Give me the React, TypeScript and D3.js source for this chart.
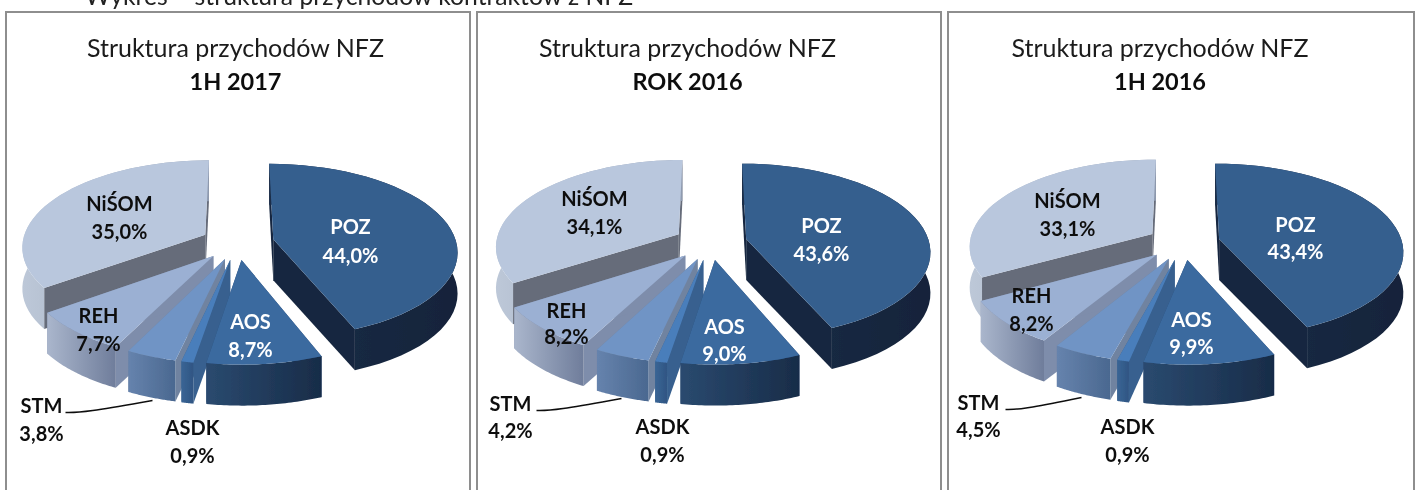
import React from "react";
import * as d3 from "d3";

const categories = ["POZ", "AOS", "ASDK", "STM", "REH", "NiŚOM"];
const valuesH12017 = [44.0, 8.7, 0.9, 3.8, 7.7, 35.0];
const valuesY2016 = [43.6, 9.0, 0.9, 4.2, 8.2, 34.1];
const valuesH12016 = [43.4, 9.9, 0.9, 4.5, 8.2, 33.1];
const periods = ["1H 2017", "ROK 2016", "1H 2016"];
const seriesByPeriod = [valuesH12017, valuesY2016, valuesH12016];

const chartTitle = "Struktura przychodów NFZ";
const pageCaption = "Wykres – struktura przychodów kontraktów z NFZ";

const topColors = ["#365f8e", "#3b6a9f", "#4a7ebb", "#7094c5", "#9bb0d3", "#b9c7dd"];
const faceColors = ["#17273f", "#2a4a75", "#38618f", "#6f83a0", "#7e8dab", "#666c7a"];
const wallFrom = ["#1b2e49", "#2a4a6f", "#3a6595", "#6683ad", "#aab6cc", "#bdc8d8"];
const wallTo = ["#14233a", "#182c48", "#2f5583", "#4a6890", "#6f7d9b", "#8f9bb0"];
const labelColors = ["#fff", "#fff", "#111", "#111", "#111", "#111"];

// layout per panel
const panelX = [6, 477, 948];
const panelW = [464, 464, 466];
const titleCx = [235.5, 687.5, 1160];
const pieCx = [237.5, 710.5, 1183.5];
const pieCy = 242.5;
const RX = 183;
const RY = 86;
const P = 0.13;
const EXPLODE = 0.2;
const DEPTH = 41;

// label anchor positions relative to the panel's pie centre [x, name-y, value-y]
const labelPos = [
  [[113, -9, 20], [13, 86, 114], [-45, 192, 220], [-196, 170, 198], [-139, 80, 108], [-118, -32, -4]],
  [[111, -10, 18], [14, 91, 118], [-48, 191, 219], [-200, 168, 195], [-144, 75, 101], [-116, -37, -9]],
  [[112, -11, 16], [8, 84, 111], [-56, 191, 219], [-205, 167, 194], [-152, 60, 88], [-116, -35, -7]],
];
// leader from the STM label to its slice
const leaderStartDx = [-172, -174, -178];
const leaderLength = [87, 85, 76];

function project(cx: number, cy: number, X: number, Y: number): [number, number] {
  const s = 1 / (1 - P * Y);
  return [cx + RX * X * s, cy + RY * Y * s];
}

function Slice({ i, arc, cx }: { i: number; arc: d3.PieArcDatum<number>; cx: number }) {
  const mid = (arc.startAngle + arc.endAngle) / 2;
  const ox = EXPLODE * Math.sin(mid);
  const oy = -EXPLODE * Math.cos(mid);
  const thetas = d3.range(0, 41).map((k) => arc.startAngle + ((arc.endAngle - arc.startAngle) * k) / 40);
  const rim = thetas.map((t) => project(cx, pieCy, ox + Math.sin(t), oy - Math.cos(t)));
  const rimLow = rim.map(([x, y]) => [x, y + DEPTH] as [number, number]);
  const apex = project(cx, pieCy, ox, oy);
  const apexLow: [number, number] = [apex[0], apex[1] + DEPTH];
  const line = d3.line().curve(d3.curveLinear);
  const gid = `wall-${Math.round(cx)}-${i}`;
  const first = rim[0];
  const last = rim[rim.length - 1];
  const firstLow = rimLow[0];
  const lastLow = rimLow[rimLow.length - 1];
  return (
    <g>
      <defs>
        <linearGradient id={gid} x1="0" x2="1" y1="0" y2="0">
          <stop offset="0" stopColor={wallFrom[i]} />
          <stop offset="1" stopColor={wallTo[i]} />
        </linearGradient>
      </defs>
      <path d={line([apex, first, firstLow, apexLow])! + "Z"} fill={faceColors[i]} />
      <path d={line([apex, last, lastLow, apexLow])! + "Z"} fill={faceColors[i]} />
      <path d={line([...rim, ...rimLow.slice().reverse()])! + "Z"} fill={`url(#${gid})`} />
      <path d={line([apex, ...rim])! + "Z"} fill={topColors[i]} />
    </g>
  );
}

function Panel({ index }: { index: number }) {
  const values = seriesByPeriod[index];
  const pie = d3.pie<number>().sort(null);
  const arcs = pie(values);
  const cx = pieCx[index];
  const x = panelX[index];
  const w = panelW[index];
  const titleX = titleCx[index];
  const order = [5, 4, 3, 2, 0, 1];
  const lp = labelPos[index];
  const stmY = pieCy + lp[3][1];
  const sx = cx + leaderStartDx[index];
  const len = leaderLength[index];
  const leader = d3.line().curve(d3.curveBasis)([
    [sx, stmY],
    [sx, stmY],
    [sx + len * 0.22, stmY],
    [sx + len, stmY - 12],
    [sx + len, stmY - 12],
  ] as [number, number][])!;
  return (
    <g>
      <path d={`M${x},490V12H${x + w}V490`} fill="none" stroke="#8e8e8e" strokeWidth={2} />
      <text x={titleX} y={57} textAnchor="middle" fontSize={25} fill="#1a1a1a" fontFamily="Lato">{chartTitle}</text>
      <text x={titleX} y={90} textAnchor="middle" fontSize={23.5} fontWeight={700} fill="#111" fontFamily="Lato">{periods[index]}</text>
      <g>
        {order.map((i) => <Slice key={i} i={i} arc={arcs[i]} cx={cx} />)}
      </g>
      <path d={leader} fill="none" stroke="#111" strokeWidth={1.6} />
      {categories.map((c, i) => (
        <g key={c} fontFamily="Lato" fontWeight={700} fontSize={20} fill={labelColors[i]} textAnchor="middle">
          <text x={cx + lp[i][0]} y={pieCy + lp[i][1]}>{c}</text>
          <text x={cx + lp[i][0]} y={pieCy + lp[i][2]}>{d3.format(".1f")(values[i]).replace(".", ",")}%</text>
        </g>
      ))}
    </g>
  );
}

export default function App() {
  return (
    <svg width={1419} height={490} style={{ position: "absolute", left: 0, top: 0, background: "#fff" }}>
      <defs>
        <filter id="soft" x="0" y="0" width="1419" height="490" filterUnits="userSpaceOnUse">
          <feGaussianBlur stdDeviation="0.5" />
        </filter>
      </defs>
      <g filter="url(#soft)">
        <rect width={1419} height={490} fill="#fff" />
        <text x={85} y={5} fontSize={24.7} fill="#222" fontFamily="Lato">{pageCaption}</text>
        {periods.map((_, i) => <Panel key={i} index={i} />)}
      </g>
    </svg>
  );
}
